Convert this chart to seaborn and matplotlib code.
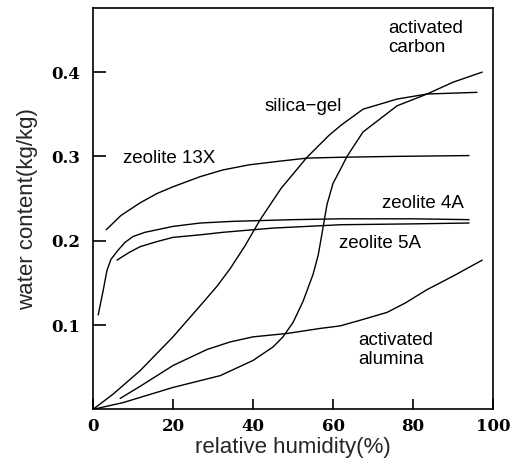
"""Water adsorption isotherms of common desiccants (water content vs relative humidity)."""
import matplotlib
matplotlib.use("Agg")
import matplotlib.pyplot as plt
import pandas as pd
import seaborn as sns

# values
ZEOLITE_13X_RH = [3.3, 7, 11.8, 16, 20, 26.8, 32.5, 39, 46, 53.5, 62, 75, 94]
ZEOLITE_13X_W = [0.213, 0.230, 0.245, 0.256, 0.264, 0.276, 0.284, 0.290, 0.294, 0.298, 0.299, 0.300, 0.301]

ZEOLITE_4A_RH = [1.3, 2.5, 3.5, 4.5, 6.3, 8, 10, 13, 20, 26.8, 35, 50, 62, 80, 94]
ZEOLITE_4A_W = [0.112, 0.140, 0.165, 0.178, 0.189, 0.198, 0.205, 0.210, 0.217, 0.221, 0.223, 0.225, 0.226, 0.226, 0.225]

ZEOLITE_5A_RH = [6, 9, 11.8, 16, 20, 26.8, 32.5, 45, 62, 80, 94]
ZEOLITE_5A_W = [0.177, 0.186, 0.193, 0.199, 0.204, 0.207, 0.210, 0.215, 0.219, 0.220, 0.221]

SILICA_GEL_RH = [0, 5, 11.8, 20, 27, 31, 34.3, 38, 41.8, 47, 53.5, 59, 62, 67.5, 76, 83.5, 96]
SILICA_GEL_W = [0.0, 0.018, 0.046, 0.086, 0.124, 0.146, 0.167, 0.194, 0.225, 0.262, 0.299, 0.325, 0.337,
                0.356, 0.368, 0.374, 0.376]

CARBON_RH = [0, 7.5, 20, 31.8, 40, 45, 47.5, 50, 52.5, 55, 56.3, 57.3, 58.5, 60, 62, 63.5, 67.5, 76, 83.5, 90, 97.3]
CARBON_W = [0.0, 0.008, 0.026, 0.040, 0.058, 0.074, 0.086, 0.103, 0.128, 0.160, 0.183, 0.210, 0.243, 0.268,
            0.286, 0.300, 0.329, 0.360, 0.374, 0.388, 0.400]

ALUMINA_RH = [6.8, 12, 20, 28.5, 34.3, 40, 48.5, 56.8, 61.8, 67, 73.5, 78, 83.5, 90, 97.3]
ALUMINA_W = [0.013, 0.028, 0.052, 0.071, 0.080, 0.086, 0.090, 0.096, 0.099, 0.106, 0.115, 0.126, 0.142, 0.158, 0.177]

X_TICKS = [0, 20, 40, 60, 80, 100]
Y_TICKS = [0.1, 0.2, 0.3, 0.4]


def build_frame() -> pd.DataFrame:
    series = {
        "zeolite 13X": (ZEOLITE_13X_RH, ZEOLITE_13X_W),
        "zeolite 4A": (ZEOLITE_4A_RH, ZEOLITE_4A_W),
        "zeolite 5A": (ZEOLITE_5A_RH, ZEOLITE_5A_W),
        "silica-gel": (SILICA_GEL_RH, SILICA_GEL_W),
        "activated carbon": (CARBON_RH, CARBON_W),
        "activated alumina": (ALUMINA_RH, ALUMINA_W),
    }
    parts = [pd.DataFrame({"material": name, "rh": rh, "water": w}) for name, (rh, w) in series.items()]
    return pd.concat(parts, ignore_index=True)


sns.set_style("ticks")
plt.rcParams["font.family"] = ["Liberation Sans", "DejaVu Sans"]

df = build_frame()

fig = plt.figure(figsize=(5.21, 4.61), dpi=100)
ax = fig.add_axes([0.1785, 0.112, 0.7678, 0.8706])

sns.lineplot(data=df, x="rh", y="water", units="material", estimator=None,
             color="black", linewidth=1.0, sort=False, ax=ax)

ax.set_xlim(0, 100)
ax.set_ylim(0, 0.476)
for side in ax.spines.values():
    side.set_linewidth(1.2)
    side.set_color("black")

tick_font = dict(family="DejaVu Serif", weight="bold", size=12)
ax.set_xticks(X_TICKS)
ax.set_xticklabels([str(t) for t in X_TICKS], **tick_font)
ax.set_yticks(Y_TICKS)
ax.set_yticklabels([f"{t:.1f}" for t in Y_TICKS], **tick_font)
ax.tick_params(axis="x", direction="in", length=7, width=1.2, pad=6, colors="black")
ax.tick_params(axis="y", direction="in", length=9, width=1.2, pad=9, colors="black")

ax.set_xlabel("relative humidity(%)", fontsize=16, labelpad=2)
ax.set_ylabel("water content(kg/kg)", fontsize=16, labelpad=10)

label_kw = dict(fontsize=13.5, color="black")
ax.text(19, 0.297, "zeolite 13X", ha="center", va="center", **label_kw)
ax.text(52.5, 0.359, "silica\u2212gel", ha="center", va="center", **label_kw)
ax.text(73.8, 0.441, "activated\ncarbon", ha="left", va="center", linespacing=1.15, **label_kw)
ax.text(82.5, 0.244, "zeolite 4A", ha="center", va="center", **label_kw)
ax.text(71.8, 0.197, "zeolite 5A", ha="center", va="center", **label_kw)
ax.text(66.2, 0.070, "activated\nalumina", ha="left", va="center", linespacing=1.15, **label_kw)

fig.savefig("out.png", dpi=100)
plt.close(fig)
